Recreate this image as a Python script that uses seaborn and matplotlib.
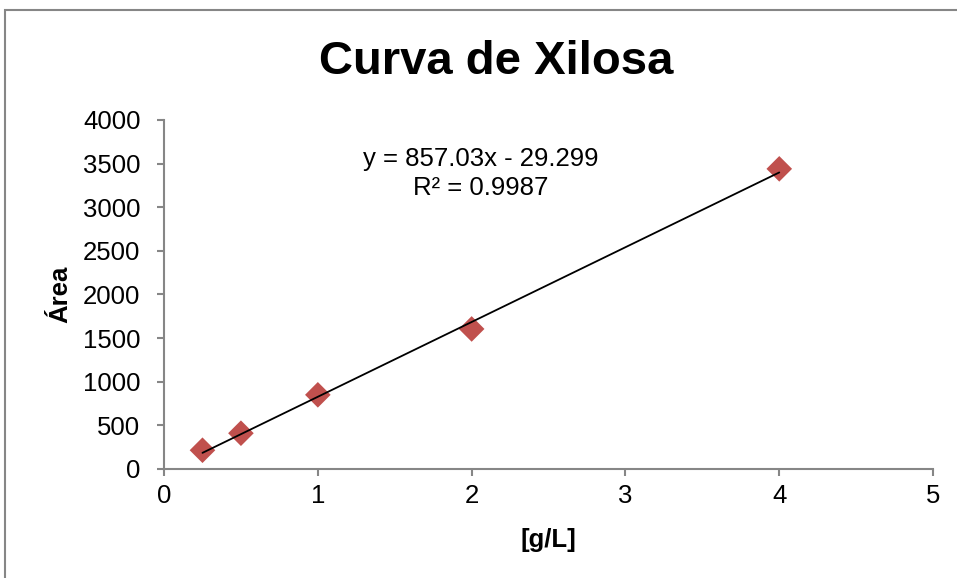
import numpy as np
import pandas as pd
import matplotlib
matplotlib.use("Agg")
import matplotlib.pyplot as plt
import seaborn as sns
from matplotlib.patches import Rectangle

conc = [0.25, 0.5, 1.0, 2.0, 4.0]
area = [215, 410, 850, 1605, 3440]
slope = 857.03
intercept = -29.299
r2 = 0.9987
xticks = [0, 1, 2, 3, 4, 5]
yticks = [0, 500, 1000, 1500, 2000, 2500, 3000, 3500, 4000]

sns.set_style("white")
plt.rcParams['font.family'] = ['Liberation Sans', 'DejaVu Sans']
plt.rcParams['text.color'] = 'black'
plt.rcParams['xtick.color'] = 'black'
plt.rcParams['ytick.color'] = 'black'
plt.rcParams['axes.labelcolor'] = 'black'

fig = plt.figure(figsize=(9.57, 5.78), dpi=100)
ax = fig.add_axes([0.1714, 0.1886, 0.975 - 0.1714, 0.7924 - 0.1886])

df = pd.DataFrame({"conc": conc, "area": area})
fit_x = np.array([min(conc), max(conc)])
fit = pd.DataFrame({"conc": fit_x, "area": slope * fit_x + intercept})

sns.lineplot(data=fit, x="conc", y="area", color="black", linewidth=1.3, ax=ax, zorder=3)
sns.scatterplot(data=df, x="conc", y="area", marker="D", s=170, color="#C0504D",
                edgecolor="none", ax=ax, zorder=2)

ax.set_xlim(0, 5)
ax.set_ylim(0, 4000)
ax.set_xticks(xticks)
ax.set_yticks(yticks)
ax.tick_params(axis="both", labelsize=18.5, length=5, width=1.5, color="#868686",
               labelcolor="black", direction="out", bottom=True, left=True)
ax.tick_params(axis="y", pad=12)
ax.tick_params(axis="x", pad=6)
for s in ["top", "right"]:
    ax.spines[s].set_visible(False)
for s in ["left", "bottom"]:
    ax.spines[s].set_color("#868686")
    ax.spines[s].set_linewidth(1.5)

ax.set_xlabel("[g/L]", fontsize=18.5, fontweight="bold", va="center")
ax.set_ylabel("Área", fontsize=18.5, fontweight="bold", va="center")
ax.xaxis.set_label_coords(0.5, -0.203)
ax.yaxis.set_label_coords(-0.135, 0.5)

fig.text(0.518, 0.893, "Curva de Xilosa", ha="center", va="center",
         fontsize=34, fontweight="bold", color="black")
ax.text(2.06, 3385, f"y = {slope}x - {abs(intercept)}\nR² = {r2}", ha="center", va="center",
        fontsize=18.5, linespacing=1.25, color="black")

fig.patches.append(Rectangle((0.005, -0.05), 1.1, 1.033, transform=fig.transFigure,
                             fill=False, edgecolor="#868686", linewidth=1.5))

fig.savefig("out.png", dpi=100)
